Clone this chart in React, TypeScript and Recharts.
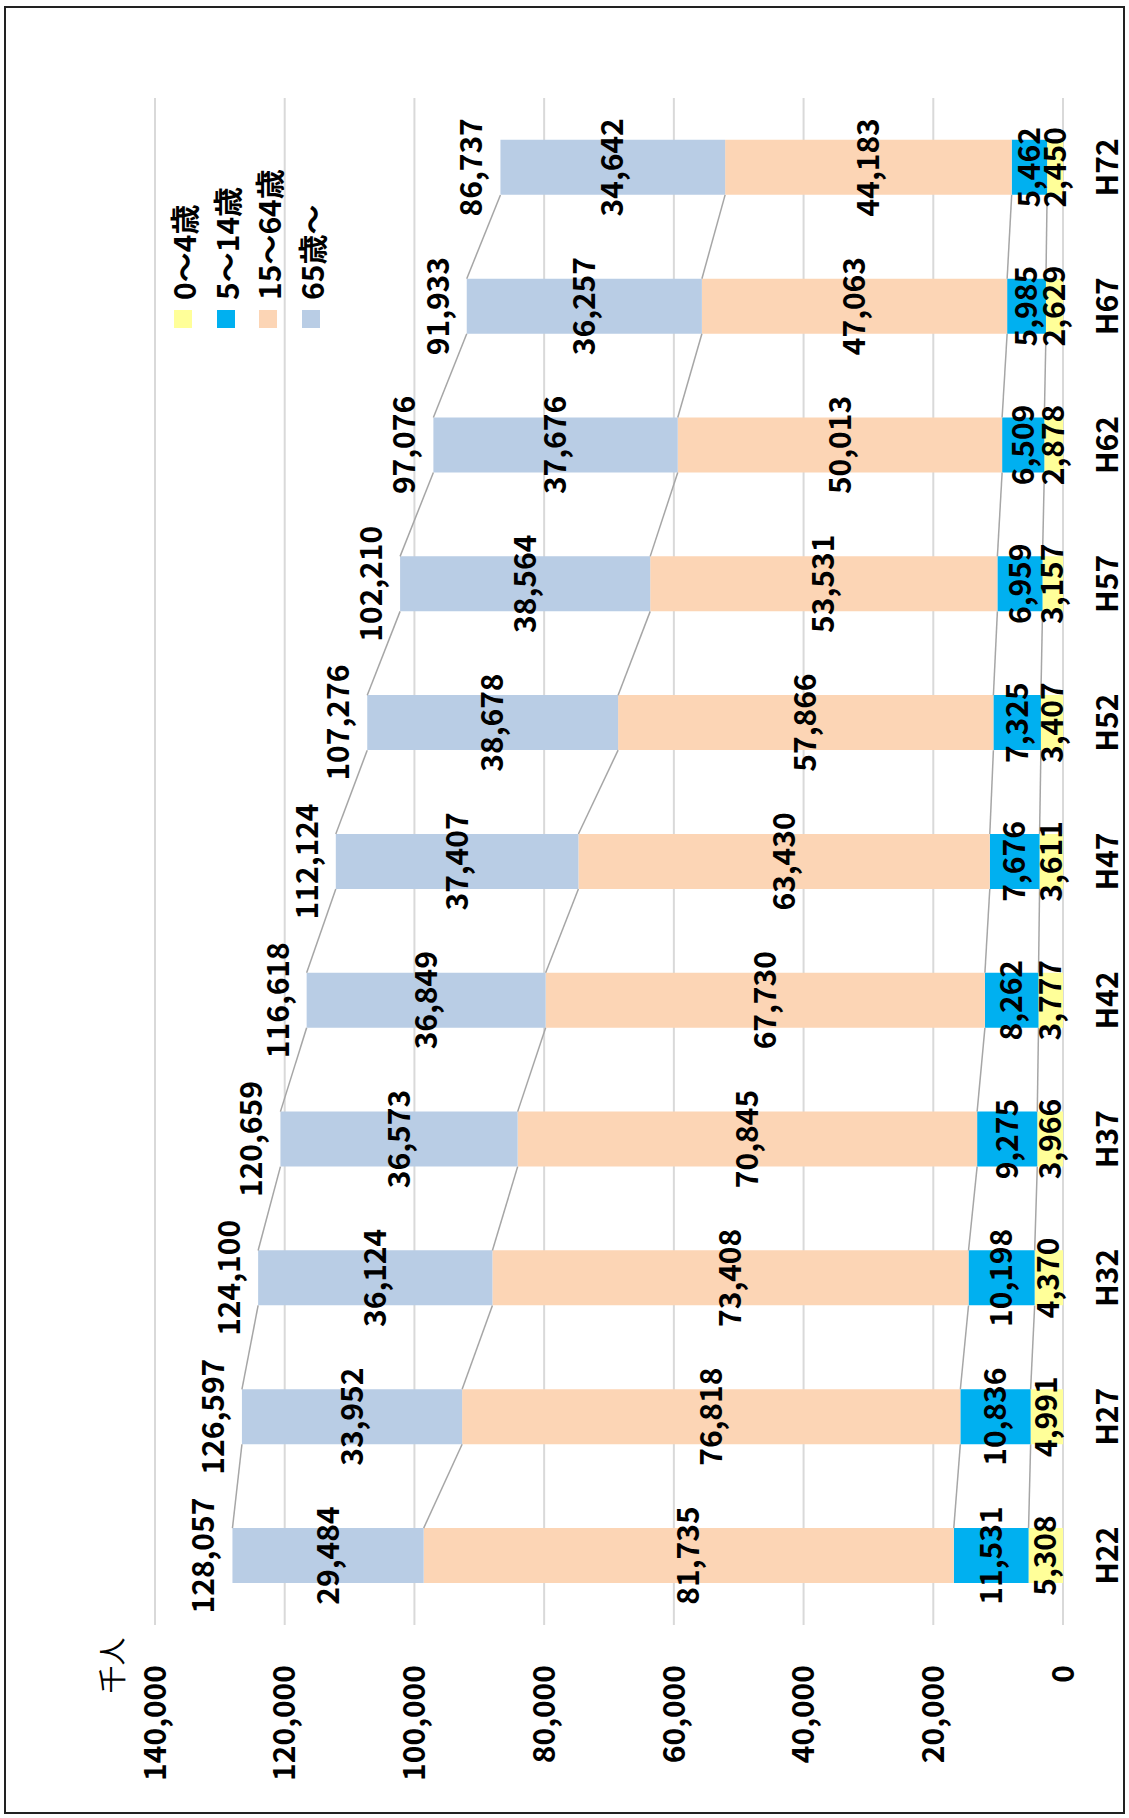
import { BarChart, Bar, XAxis, YAxis, CartesianGrid, LabelList, ReferenceLine, Legend } from 'recharts'

// 年次（横軸）
const categories = ['H22', 'H27', 'H32', 'H37', 'H42', 'H47', 'H52', 'H57', 'H62', 'H67', 'H72']
// 年齢区分別人口（千人）
const age0to4 = [5308, 4991, 4370, 3966, 3777, 3611, 3407, 3157, 2878, 2629, 2450]
const age5to14 = [11531, 10836, 10198, 9275, 8262, 7676, 7325, 6959, 6509, 5985, 5462]
const age15to64 = [81735, 76818, 73408, 70845, 67730, 63430, 57866, 53531, 50013, 47063, 44183]
const age65over = [29484, 33952, 36124, 36573, 36849, 37407, 38678, 38564, 37676, 36257, 34642]
const totals = [128057, 126597, 124100, 120659, 116618, 112124, 107276, 102210, 97076, 91933, 86737]
const valueTicks = [0, 20000, 40000, 60000, 80000, 100000, 120000, 140000]

const seriesNames = ['0～4歳', '5～14歳', '15～64歳', '65歳～']
const seriesKeys = ['a0', 'a5', 'a15', 'a65']
const seriesColors = ['#FFFF99', '#00B0F0', '#FCD5B5', '#B9CDE5']
const seriesValues = [age0to4, age5to14, age15to64, age65over]

// 回転前のサイズ（横長で描いてから -90度 回す）
const W = 1818
const H = 1129
const MARGIN = { top: 155, right: 98, left: 0, bottom: 0 }
const Y_AXIS_W = 193
const BAR_SIZE = 55
const FONT = '"Noto Sans CJK JP", "Noto Sans", sans-serif'

const data = categories.map((name, i) => ({
  idx: i,
  name,
  a0: age0to4[i],
  a5: age5to14[i],
  a15: age15to64[i],
  a65: age65over[i],
  total: totals[i],
}))

// 区分線用の累積値
const cumulative = seriesValues.map((_, k) =>
  categories.map((_, i) => seriesValues.slice(0, k + 1).reduce((s, arr) => s + arr[i], 0))
)

const plotWidth = W - Y_AXIS_W - MARGIN.right
const halfBar = BAR_SIZE / 2 / (plotWidth / categories.length)

const fmt = (v: any) => Number(v).toLocaleString('en-US')

const renderLegend = () => (
  <div style={{ display: 'flex', flexDirection: 'column', fontFamily: FONT }}>
    {seriesNames.map((n, k) => (
      <div key={n} style={{ display: 'flex', alignItems: 'center', height: 42.5 }}>
        <span style={{ display: 'inline-block', width: 18, height: 18, background: seriesColors[k], marginRight: 10 }} />
        <span style={{ fontSize: 30, fontWeight: 700, lineHeight: '30px', color: '#000' }}>{n}</span>
      </div>
    ))}
  </div>
)

export default function App() {
  return (
    <div style={{ position: 'absolute', left: 0, top: 0, width: H, height: W, background: '#fff', overflow: 'hidden', fontFamily: FONT }}>
      <div style={{ position: 'absolute', left: 4, top: 6, width: 1121, height: 1808, border: '2px solid #222', boxSizing: 'border-box' }} />
      <div style={{ position: 'absolute', left: 0, top: 0, width: W, height: H, transformOrigin: '0 0', transform: `translateY(${W}px) rotate(-90deg)` }}>
        <BarChart width={W} height={H} data={data} margin={MARGIN}>
          <CartesianGrid vertical={false} stroke="#D9D9D9" strokeWidth={2} />
          <XAxis
            dataKey="idx"
            type="number"
            domain={[-0.5, categories.length - 0.5]}
            ticks={data.map(d => d.idx)}
            interval={0}
            tickFormatter={(i: number) => categories[i]}
            height={H - 1063}
            axisLine={false}
            tickLine={false}
            tickMargin={28}
            tick={{ fontSize: 30, fontWeight: 700, fill: '#000', fontFamily: FONT }}
          />
          <YAxis
            domain={[0, 140000]}
            ticks={valueTicks}
            width={Y_AXIS_W}
            axisLine={false}
            tickLine={false}
            tickMargin={34}
            tickFormatter={fmt}
            tick={{ fontSize: 30, fontWeight: 700, fill: '#000', fontFamily: FONT }}
            label={{ value: '千人', position: 'top', offset: 32, dx: 56, fontSize: 28, fill: '#000', fontFamily: FONT }}
          />
          <Legend layout="vertical" align="center" verticalAlign="middle" content={renderLegend} wrapperStyle={{ left: 1490, top: 162, width: 220 }} />
          {cumulative.flatMap((line, k) =>
            categories.slice(0, -1).map((_, i) => (
              <ReferenceLine
                key={`sl-${k}-${i}`}
                segment={[{ x: i + halfBar, y: line[i] }, { x: i + 1 - halfBar, y: line[i + 1] }]}
                stroke="#A6A6A6"
                strokeWidth={1.5}
                ifOverflow="visible"
              />
            ))
          )}
          {seriesKeys.map((key, k) => (
            <Bar key={key} dataKey={key} name={seriesNames[k]} stackId="a" fill={seriesColors[k]} barSize={BAR_SIZE} isAnimationActive={false}>
              <LabelList dataKey={key} position="center" formatter={fmt} style={{ fontSize: 30, fontWeight: 700, fill: '#000', fontFamily: FONT }} />
              {k === seriesKeys.length - 1 && (
                <LabelList dataKey="total" position="top" offset={18} formatter={fmt} style={{ fontSize: 30, fontWeight: 700, fill: '#000', fontFamily: FONT }} />
              )}
            </Bar>
          ))}
        </BarChart>
      </div>
    </div>
  )
}
